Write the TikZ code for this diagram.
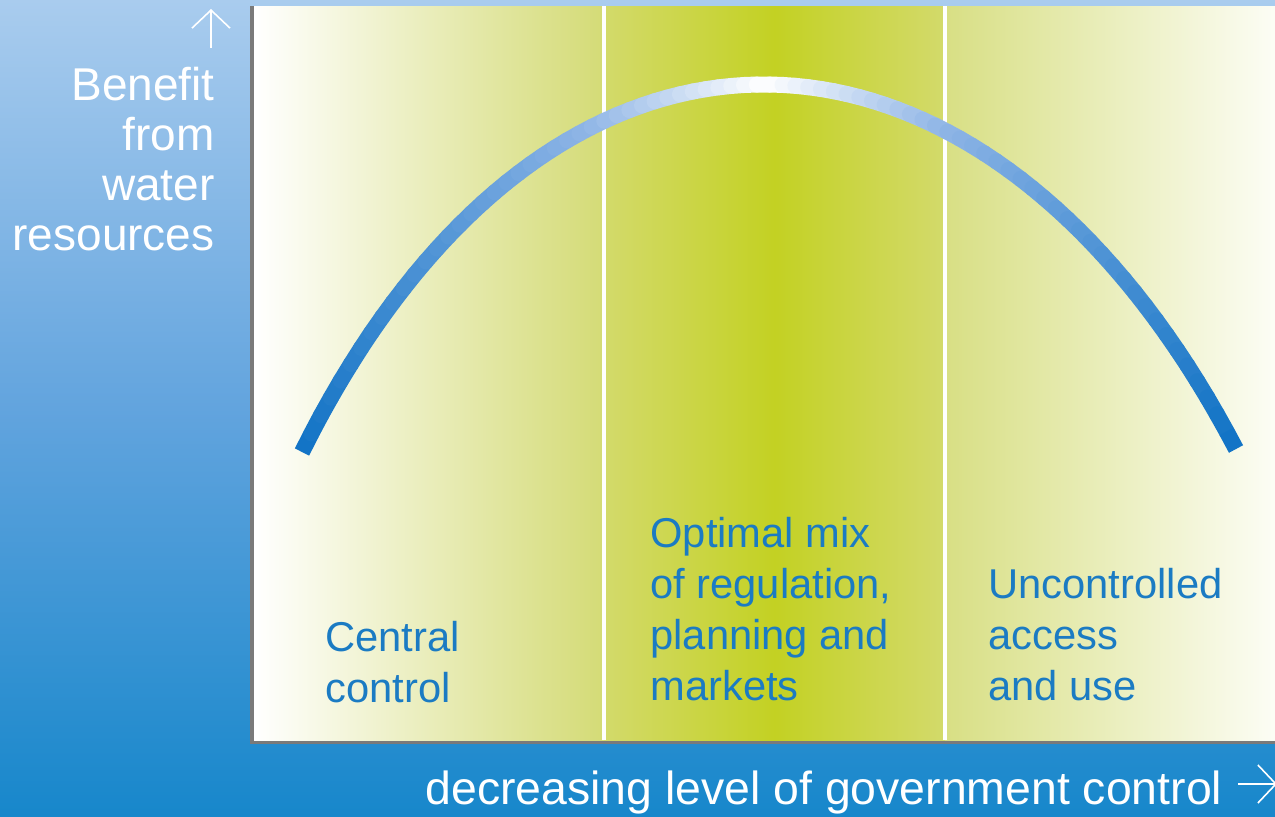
\documentclass[tikz,border=0pt]{standalone}
\usepackage{fontspec}
\setmainfont{Liberation Sans}
\usetikzlibrary{arrows.meta}
\definecolor{bgtop}{HTML}{A9CCEE}
\definecolor{bgmid}{HTML}{62A4DE}
\definecolor{bgbot}{HTML}{1787CB}
\definecolor{shadowgrey}{HTML}{7A7A7A}
\definecolor{secAr}{HTML}{D4DB76}
\definecolor{secBe}{HTML}{D3DA6B}
\definecolor{secBm}{HTML}{C3D123}
\definecolor{secCl}{HTML}{D8DF84}
\definecolor{secCr}{HTML}{FCFDF5}
\definecolor{labblue}{HTML}{1B7BC3}
\definecolor{curvemid}{HTML}{8FB5E6}
\definecolor{curveend}{HTML}{1173C5}
\tikzset{
  ylab/.style={text=white, font=\fontsize{23}{25}\selectfont, align=right, anchor=base east, inner sep=0pt},
  plab/.style={text=labblue, font=\fontsize{20.85}{25.5}\selectfont, align=left, anchor=base west, inner sep=0pt},
  xlab/.style={text=white, font=\fontsize{23.2}{25}\selectfont, anchor=base west, inner sep=0pt},
  axisarrow/.style={white, line width=0.8pt, -{Straight Barb[length=9pt,width=19pt]}},
  divider/.style={white, line width=2pt}
}
\begin{document}
\begin{tikzpicture}[x=0.5pt,y=-0.5pt]
\useasboundingbox (0,0) rectangle (1275,816);
% background
\shade[top color=bgtop, bottom color=bgbot, middle color=bgmid] (0,0) rectangle (1275,816);
% panel shadow and sections
\fill[shadowgrey] (250,6) rectangle (1275,744);
\shade[left color=white, right color=secAr] (254,6) rectangle (604,740);
\shade[left color=secBe, right color=secBe, middle color=secBm] (604,6) rectangle (945,740);
\shade[left color=secCl, right color=secCr] (945,6) rectangle (1275,740);
\draw[divider] (604,6) -- (604,740);
\draw[divider] (945,6) -- (945,740);
% curve
\foreach \i in {0,...,79}{
  \pgfmathsetmacro\ta{\i/80}
  \pgfmathsetmacro\tb{(\i+1)/80}
  \pgfmathsetmacro\xa{(1-\ta)^3*302 + 3*(1-\ta)^2*\ta*552 + 3*(1-\ta)*\ta^2*988 + \ta^3*1236}
  \pgfmathsetmacro\ya{(1-\ta)^3*452 + 3*(1-\ta)^2*\ta*(-50) + 3*(1-\ta)*\ta^2*(-25) + \ta^3*449}
  \pgfmathsetmacro\xb{(1-\tb)^3*302 + 3*(1-\tb)^2*\tb*552 + 3*(1-\tb)*\tb^2*988 + \tb^3*1236}
  \pgfmathsetmacro\yb{(1-\tb)^3*452 + 3*(1-\tb)^2*\tb*(-50) + 3*(1-\tb)*\tb^2*(-25) + \tb^3*449}
  \pgfmathsetmacro\s{abs((\ta+\tb)/2-0.5)*2}
  \pgfmathtruncatemacro\lo{\s<0.35 ? 1 : 0}
  \ifnum\lo=1
    \pgfmathsetmacro\p{\s/0.35*100}
    \colorlet{cc}{curvemid!\p!white}
  \else
    \pgfmathsetmacro\p{(\s-0.35)/0.65*100}
    \colorlet{cc}{curveend!\p!curvemid}
  \fi
  \pgfmathtruncatemacro\isend{(\i==0 || \i==79) ? 1 : 0}
  \ifnum\isend=1
    \draw[cc, line width=8pt, line cap=butt] (\xa,\ya) -- (\xb,\yb);
  \else
    \draw[cc, line width=8pt, line cap=round] (\xa,\ya) -- (\xb,\yb);
  \fi
}
% axis arrows
\coordinate (ytail) at (211,48);
\coordinate (yhead) at (211,9);
\draw[axisarrow] (ytail) -- (yhead);
\coordinate (xtail) at (1238,784);
\coordinate (xhead) at (1277,784);
\draw[axisarrow] (xtail) -- (xhead);
% labels (base anchor = baseline of the last line)
\node[ylab] (ylabel) at (215,250) {Benefit\\from\\water\\resources};
\node[plab] (central) at (325,702) {Central\\control};
\node[plab] (optimal) at (650,700) {Optimal mix\\of regulation,\\planning and\\markets};
\node[plab] (uncontrolled) at (988,700) {Uncontrolled\\access\\and use};
\node[xlab] (xlabel) at (425,804) {decreasing level of government control};
\end{tikzpicture}
\end{document}
